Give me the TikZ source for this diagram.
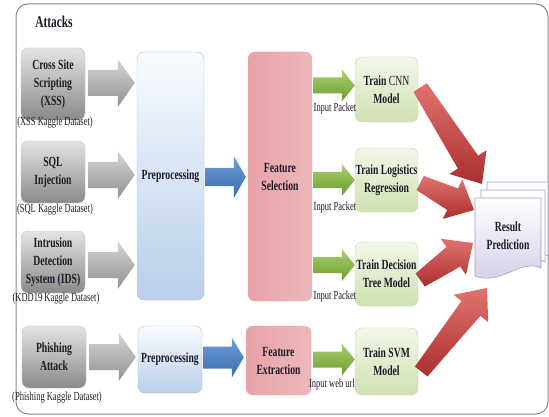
\documentclass[tikz,border=0pt]{standalone}
\usepackage{fontspec}
\setmainfont{Liberation Serif}[FakeStretch=0.69]
\usetikzlibrary{calc}
\definecolor{txt}{HTML}{1C1C28}
\definecolor{framec}{HTML}{8A8A8A}
\definecolor{grayT}{HTML}{E4E4E4}
\definecolor{grayBot}{HTML}{8A8A8A}
\definecolor{grayB}{HTML}{C4C4C4}
\definecolor{garT}{HTML}{D4D4D4}
\definecolor{garB}{HTML}{929292}
\definecolor{preT}{HTML}{F8FBFE}
\definecolor{preBot}{HTML}{B9CFE9}
\definecolor{preB}{HTML}{A8C2E0}
\definecolor{fsL}{HTML}{E8A2A8}
\definecolor{fsM}{HTML}{F8E2E3}
\definecolor{fsR}{HTML}{EDB8BB}
\definecolor{fsB}{HTML}{E0A8AC}
\definecolor{barT}{HTML}{6E9DD8}
\definecolor{barB}{HTML}{3B6BAE}
\definecolor{grnT}{HTML}{AAD06E}
\definecolor{grnB}{HTML}{6C9C32}
\definecolor{mdT}{HTML}{F2F7E8}
\definecolor{mdBot}{HTML}{CFE1B2}
\definecolor{mdB}{HTML}{C4D9A8}
\definecolor{redT}{HTML}{E2726F}
\definecolor{redB}{HTML}{A8302E}
\definecolor{docT}{HTML}{FFFFFF}
\definecolor{docBot}{HTML}{D3CBE9}
\definecolor{docB}{HTML}{A49CC0}
\newcommand{\blockarrow}[7]{%
  \coordinate (bA) at (#1);
  \coordinate (bB) at (#2);
  \coordinate (bH) at ($(bB)!#6!(bA)$);
  \path[#7] ($(bA)!#3!90:(bB)$) -- ($(bH)!#4!-90:(bA)$) -- ($(bH)!#5!-90:(bA)$) -- (bB)
    -- ($(bH)!#5!90:(bA)$) -- ($(bH)!#4!90:(bA)$) -- ($(bA)!#3!-90:(bB)$) -- cycle;
}
\newcommand{\boxfont}{\fontsize{14}{18}\selectfont\bfseries}
\begin{document}
\begin{tikzpicture}[x=1pt,y=-1pt,
  box/.style={rounded corners=7pt, align=center, font=\boxfont, text=txt, inner sep=0pt},
  attack/.style={box, draw=grayB, top color=grayT, bottom color=grayBot, minimum width=64pt, minimum height=62pt},
  prec/.style={box, draw=preB, top color=preT, bottom color=preBot},
  fsc/.style={box, draw=fsB, left color=fsL, middle color=fsM, right color=fsR},
  model/.style={box, draw=mdB, top color=mdT, bottom color=mdBot, minimum width=63pt, minimum height=65pt},
  lbl/.style={font=\fontsize{12.3}{14}\selectfont, text=txt, inner sep=0pt},
  garrow/.style={top color=garT, bottom color=garB},
  barrow/.style={top color=barT, bottom color=barB},
  grarrow/.style={top color=grnT, bottom color=grnB},
  rarrow/.style={top color=redT, bottom color=redB},
  doc/.style={draw=docB, line width=0.6pt}
]
\useasboundingbox (0,0) rectangle (549,417);
\fill[white] (0,0) rectangle (549,417);
\draw[framec, line width=1pt, rounded corners=12pt] (16,4) rectangle (548,414);
\node[font=\fontsize{16.5}{19}\selectfont\bfseries, text=txt] (title) at (54,22) {Attacks};

% attack boxes
\node[attack, minimum height=72pt] (xss) at (53,84) {Cross Site\\Scripting\\(XSS)};
\node[lbl] (xssl) at (55,123) {(XSS Kaggle Dataset)};
\node[attack] (sql) at (53,172) {SQL\\Injection};
\node[lbl] (sqll) at (55,210) {(SQL Kaggle Dataset)};
\node[attack] (ids) at (53,262) {Intrusion\\Detection\\System (IDS)};
\node[lbl] (idsl) at (56,299) {(KDD19 Kaggle Dataset)};
\node[attack] (phi) at (54,357) {Phishing\\Attack};
\node[lbl] (phil) at (57,398) {(Phishing Kaggle Dataset)};

% columns
\node[prec, minimum width=67pt, minimum height=248pt] (pre) at (170.5,176) {Preprocessing};
\node[fsc, minimum width=64pt, minimum height=249pt] (fs) at (280,176.5) {Feature\\Selection};
\node[prec, minimum width=64pt, minimum height=67pt] (pre2) at (170,359.5) {Preprocessing};
\node[fsc, minimum width=65pt, minimum height=69pt] (fe) at (278.5,360.5) {Feature\\Extraction};

% models
\node[model] (cnn) at (386.5,89.5) {Train {\mdseries CNN}\\Model};
\node[model, minimum height=64pt] (lr) at (386.5,180) {Train Logistics\\Regression};
\node[model, minimum height=64pt] (dt) at (386.5,274) {Train Decision\\Tree Model};
\node[model, minimum height=67pt] (svm) at (386.5,361.5) {Train SVM\\Model};

% result documents
\path[doc, fill=white] (487,182) -- (548,182) -- (548,256) .. controls (530,246) and (510,272) .. (487,262) -- cycle;
\path[doc, fill=white] (481,190) -- (545,190) -- (545,262) .. controls (527,252) and (505,279) .. (481,269) -- cycle;
\path[doc, top color=docT, bottom color=docBot] (475,198) -- (541,198) -- (541,268) .. controls (522,258) and (500,286) .. (475,276) -- cycle;
\node[box] (res) at (508,236) {Result\\Prediction};
\coordinate (r1) at (482,184);
\coordinate (r2) at (474,210);
\coordinate (r3) at (473,243);
\coordinate (r4) at (487,288);

% gray arrows
\blockarrow{$(xss.east)+(3,-1)$}{$(pre.west|-xss.east)+(-2,-1)$}{13pt}{13pt}{24pt}{17pt}{garrow}
\blockarrow{$(sql.east)+(3,3)$}{$(pre.west|-sql.east)+(-2,3)$}{13pt}{13pt}{24pt}{17pt}{garrow}
\blockarrow{$(ids.east)+(3,3)$}{$(pre.west|-ids.east)+(-2,3)$}{13pt}{13pt}{24pt}{17pt}{garrow}
\blockarrow{$(phi.east)+(3,0)$}{$(pre2.west|-phi.east)+(-2,0)$}{13pt}{13pt}{24pt}{17pt}{garrow}

% blue arrows
\blockarrow{$(pre.east)+(1,1)$}{$(fs.west|-pre.east)+(-2,1)$}{9pt}{9pt}{21pt}{12pt}{barrow}
\blockarrow{$(pre2.east)+(1,-2)$}{$(fe.west|-pre2.east)+(-2,-2)$}{11pt}{11pt}{20pt}{12pt}{barrow}

% green arrows
\blockarrow{$(fs.east|-cnn.west)+(1,-4)$}{$(cnn.west)+(0,-4)$}{8pt}{8pt}{16pt}{13pt}{grarrow}
\blockarrow{$(fs.east|-lr.west)+(1,0)$}{$(lr.west)+(0,0)$}{8pt}{8pt}{16pt}{13pt}{grarrow}
\blockarrow{$(fs.east|-dt.west)+(1,-9)$}{$(dt.west)+(0,-9)$}{8pt}{8pt}{16pt}{13pt}{grarrow}
\blockarrow{$(fe.east|-svm.west)+(2,-2)$}{$(svm.west)+(0,-2)$}{8pt}{8pt}{16pt}{13pt}{grarrow}

\node[lbl] (in1) at (335,109) {Input Packet};
\node[lbl] (in2) at (335,208) {Input Packet};
\node[lbl] (in3) at (335,297) {Input Packet};
\node[lbl] (in4) at (332,385) {Input web url};

% red arrows
\blockarrow{$(cnn.east)+(2,-2)$}{r1}{8pt}{12pt}{22pt}{26pt}{rarrow}
\blockarrow{$(lr.east)+(2,3)$}{r2}{8pt}{12pt}{22pt}{24pt}{rarrow}
\blockarrow{$(dt.east)+(2,6)$}{r3}{8pt}{12pt}{22pt}{24pt}{rarrow}
\blockarrow{$(svm.east)+(3,10)$}{r4}{8pt}{12pt}{22pt}{26pt}{rarrow}
\end{tikzpicture}
\end{document}
